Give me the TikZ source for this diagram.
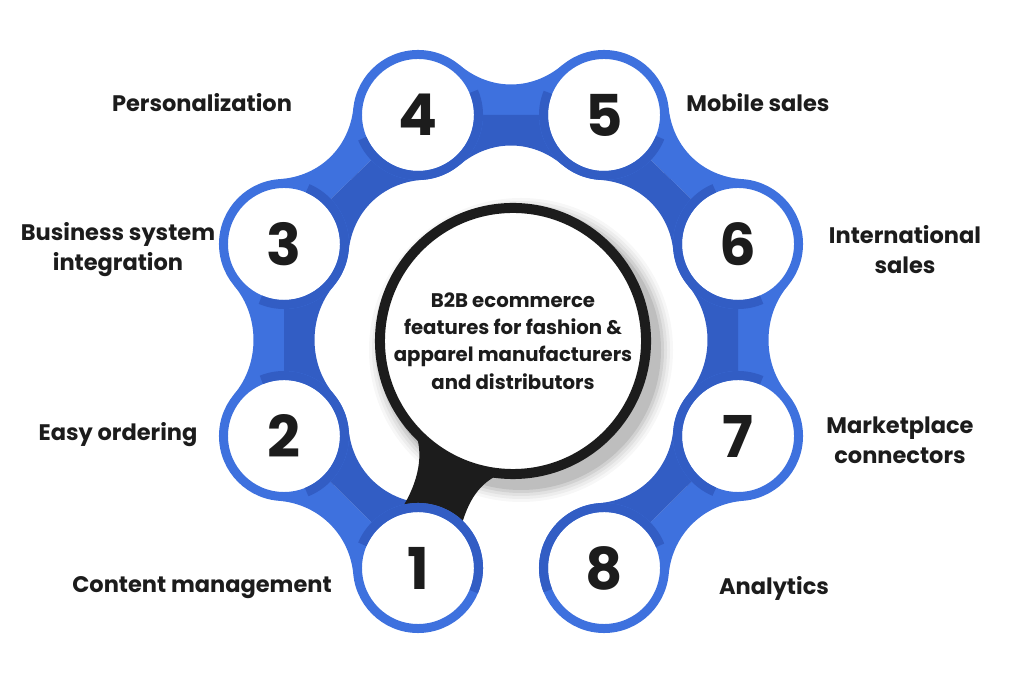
\documentclass[tikz,border=0pt]{standalone}
\usepackage{fontspec}
\setmainfont{Poppins}
\usetikzlibrary{calc,backgrounds}

\definecolor{ringblue}{RGB}{62,113,222}
\definecolor{ringdark}{RGB}{50,93,196}
\definecolor{inkblack}{RGB}{28,28,28}

% band between two numbered rings: from, to, axis angle
\newcommand\band[3]{%
  \fill[ringblue] (#1.center) -- ($(#1)+(#3+50:65)$)
    .. controls ($(#1)+(#3+50:65)+(#3-40:40)$) and ($(#2)+(#3+130:65)+(#3+220:40)$) .. ($(#2)+(#3+130:65)$)
    -- (#2.center) -- cycle;
  \fill[ringdark] (#1.center) -- ($(#1)+(#3-50:65)$)
    .. controls ($(#1)+(#3-50:65)+(#3+40:40)$) and ($(#2)+(#3-130:65)+(#3+140:40)$) .. ($(#2)+(#3-130:65)$)
    -- (#2.center) -- cycle;
}
% darker half of a ring, facing the hub
\newcommand\darkarc[2]{%
  \draw[ringdark, line width=0.225cm] ($(#1)+(#2-90:60.5)$) arc[start angle=#2-90, delta angle=180, radius=60.5];
}

\tikzset{
  numring/.style={circle, draw=ringblue, fill=white, line width=0.225cm, minimum size=3.025cm,
    inner sep=0pt, text=inkblack, font=\fontsize{41}{41}\selectfont\bfseries},
  hubring/.style={circle, draw=inkblack, fill=white, line width=0.25cm, minimum size=6.65cm,
    inner sep=0pt, align=center, text=inkblack, font=\fontsize{14}{19.4}\selectfont\bfseries},
  feat/.style={align=center, text=inkblack, font=\fontsize{16}{21.3}\selectfont\bfseries}
}

\begin{document}
\begin{tikzpicture}[x=0.025cm, y=0.025cm]
\useasboundingbox (0,0) rectangle (1024,683);

% rings
\node[numring] (n1) at (418,115) {1};
\node[numring] (n2) at (284,247) {2};
\node[numring] (n3) at (284,439) {3};
\node[numring] (n4) at (418,568) {4};
\node[numring] (n5) at (604,568) {5};
\node[numring] (n6) at (738,439) {6};
\node[numring] (n7) at (738,247) {7};
\node[numring] (n8) at (604,115) {8};

\darkarc{n1}{67}
\darkarc{n2}{22}
\darkarc{n3}{-23}
\darkarc{n4}{-67}
\darkarc{n5}{-112}
\darkarc{n6}{-157}
\darkarc{n7}{157}
\darkarc{n8}{112}

% hub
\node[hubring] (hub) at (513,342) {B2B ecommerce\\features for fashion \&\\apparel manufacturers\\and distributors};

% labels
\node[feat] (t1) at (202,95) {Content management};
\node[feat] (t2) at (118,248) {Easy ordering};
\node[feat] (t3) at (118,433) {Business system\\integration};
\node[feat] (t4) at (202,580) {Personalization};
\node[feat] (t5) at (758,580) {Mobile sales};
\node[feat] (t6) at (905,433) {International\\sales};
\node[feat] (t7) at (900,243) {Marketplace\\connectors};
\node[feat] (t8) at (774,95) {Analytics};

\begin{scope}[on background layer]
  % shadow of the hub
  \foreach \r/\o in {152/0.03,149/0.04,146/0.05,143/0.07,140/0.09}
    \fill[black, opacity=\o] ($(hub)+(8,-9)$) circle (\r);
  \band{n1}{n2}{135.4}
  \band{n2}{n3}{90}
  \band{n3}{n4}{43.9}
  \band{n4}{n5}{0}
  \band{n5}{n6}{-43.9}
  \band{n6}{n7}{-90}
  \band{n7}{n8}{-135.4}
  % handle from hub down to ring 1
  \fill[inkblack] (n1.center) -- ($(n1)+(105:62)$)
    .. controls ($(n1)+(0,85)$) and ($(n1)+(7,115)$) .. ($(hub)+(222:133)$)
    -- (hub.center) -- ($(hub)+(265:133)$)
    .. controls ($(n1)+(60,85)$) and ($(n1)+(50,65)$) .. ($(n1)+(45:62)$) -- cycle;
\end{scope}
\end{tikzpicture}
\end{document}
